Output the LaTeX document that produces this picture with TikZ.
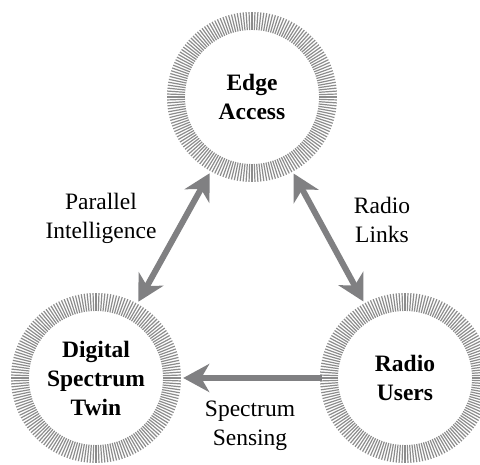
\documentclass[tikz,border=0pt]{standalone}
\usepackage{fontspec}
\setmainfont{Liberation Serif}
\usetikzlibrary{arrows.meta}
\definecolor{arrowgray}{RGB}{128,128,130}
\definecolor{tickgray}{RGB}{140,140,140}
\begin{document}
\begin{tikzpicture}[x=1pt,y=1pt,
  hub/.style={circle, minimum size=180pt, inner sep=0pt, align=center,
    font=\fontsize{23.5}{29}\selectfont\bfseries},
  lbl/.style={align=center, font=\fontsize{23.5}{29}\selectfont},
  tiparrow/.tip={Stealth[length=26pt,width=28pt,inset=8pt]},
  link/.style={arrowgray, line width=6pt},
  ringtick/.style={tickgray, line width=1.2pt}]
\useasboundingbox (0,0) rectangle (480,465);
\node[hub] (e) at (252,368) {Edge\\Access};
\node[hub] (d) at (96,87) {Digital\\Spectrum\\Twin};
\node[hub] (r) at (405,87) {Radio\\Users};
\foreach \n in {e,d,r}{
  \foreach \a in {0,2,...,358}{
    \draw[ringtick, shift={(\n.center)}] (\a:67pt) -- (\a:85pt);
  }
}
\draw[link, tiparrow-tiparrow, shorten <=-3pt, shorten >=-3pt] (e) -- (d);
\draw[link, tiparrow-tiparrow, shorten <=-3pt, shorten >=-3pt] (e) -- (r);
\draw[link, -tiparrow, shorten <=-7pt, shorten >=-3pt] (r) -- (d);
\node[lbl] (lp) at (101,247) {Parallel\\Intelligence};
\node[lbl] (lr) at (382,245) {Radio\\Links};
\node[lbl] (ls) at (250,39) {Spectrum\\Sensing};
\end{tikzpicture}
\end{document}
